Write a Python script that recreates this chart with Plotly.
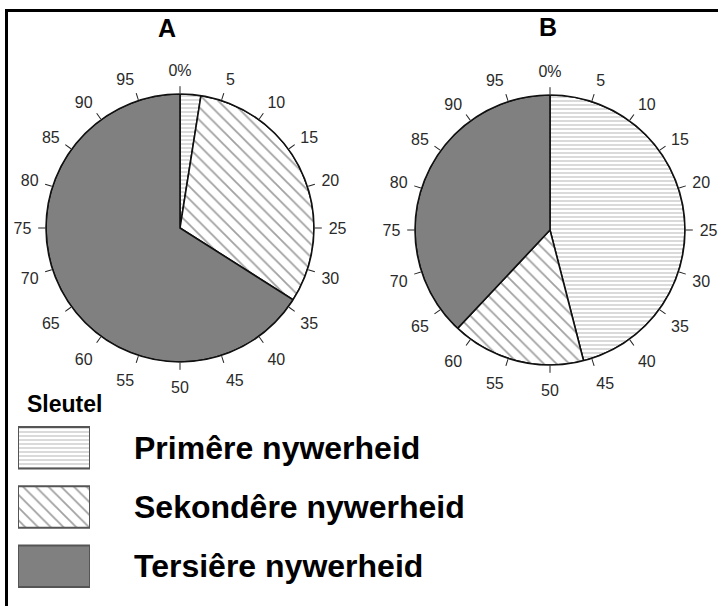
import plotly.graph_objects as go

categories = ["Primêre nywerheid", "Sekondêre nywerheid", "Tersiêre nywerheid"]
values_A = [2.5, 31.5, 66.0]
values_B = [46.0, 16.0, 38.0]
tick_values = [0, 5, 10, 15, 20, 25, 30, 35, 40, 45, 50, 55, 60, 65, 70, 75, 80, 85, 90, 95]
tick_labels = ["0%"] + [str(v) for v in tick_values[1:]]

fills = ["white", "white", "#808080"]
pat_shapes = ["-", "\\", ""]
pat_fg = ["#b4b4b4", "#8a8a8a", "#808080"]
pat_size = [4, 9, 8]

W, H = 718, 606


def wedges(values):
    starts, c = [], 0.0
    for v in values:
        starts.append(c)
        c += v
    theta = [(s + v / 2) * 3.6 for s, v in zip(starts, values)]
    width = [v * 3.6 for v in values]
    return theta, width


fig = go.Figure()
for name, vals in (("polar", values_A), ("polar2", values_B)):
    th, wd = wedges(vals)
    fig.add_trace(go.Barpolar(
        r=[1] * len(vals), theta=th, width=wd, subplot=name,
        marker=dict(color=fills, line=dict(color="#111", width=1.6),
                    pattern=dict(shape=pat_shapes, fgcolor=pat_fg, size=pat_size,
                                 solidity=0.2, bgcolor="white")),
        showlegend=False, hoverinfo="skip"))

# label-only polar overlays
for name in ("polar3", "polar4"):
    fig.add_trace(go.Scatterpolar(r=[], theta=[], subplot=name, showlegend=False,
                                  hoverinfo="skip", mode="markers"))

# legend boxes as bars
fig.add_trace(go.Bar(
    x=[1, 1, 1], y=categories, orientation="h", xaxis="x", yaxis="y",
    marker=dict(color=fills, line=dict(color="#555", width=2),
                pattern=dict(shape=pat_shapes, fgcolor=pat_fg, size=[4, 9, 8],
                             solidity=0.2, bgcolor="white")),
    width=0.7, showlegend=False, hoverinfo="skip"))


def px_dom_x(a, b):
    return [a / W, b / W]


def px_dom_y(top, bottom):
    return [1 - bottom / H, 1 - top / H]


tickvals_deg = [v * 3.6 for v in tick_values]
ang_ticks = dict(rotation=90, direction="clockwise", thetaunit="degrees",
                 tickvals=tickvals_deg, showticklabels=False,
                 ticks="outside", ticklen=7, tickcolor="#222", tickwidth=1.3,
                 showgrid=False, linecolor="#111", linewidth=1.6)
ang_labels = dict(rotation=90, direction="clockwise", thetaunit="degrees",
                  tickvals=tickvals_deg, ticktext=tick_labels,
                  ticks="outside", ticklen=11, tickcolor="rgba(0,0,0,0)",
                  showgrid=False, showline=False,
                  tickfont=dict(family="Arial, Liberation Sans", size=16, color="#2a2a2a"))
rad = dict(visible=False, range=[0, 1])
domA = dict(x=px_dom_x(46, 314), y=px_dom_y(94, 362))
domB = dict(x=px_dom_x(415, 685), y=px_dom_y(95, 365))
clear = "rgba(0,0,0,0)"

fig.update_layout(
    width=W, height=H, margin=dict(l=0, r=0, t=0, b=0),
    paper_bgcolor="white", plot_bgcolor="white",
    polar=dict(domain=domA, angularaxis=ang_ticks, radialaxis=rad, bgcolor=clear),
    polar2=dict(domain=domB, angularaxis=ang_ticks, radialaxis=rad, bgcolor=clear),
    polar3=dict(domain=domA, angularaxis=ang_labels, radialaxis=rad, bgcolor=clear),
    polar4=dict(domain=domB, angularaxis=ang_labels, radialaxis=rad, bgcolor=clear),
    xaxis=dict(domain=px_dom_x(18, 90), range=[0, 1], visible=False, fixedrange=True),
    yaxis=dict(domain=px_dom_y(418, 596), autorange="reversed", visible=False,
               fixedrange=True),
    showlegend=False,
)

font_b = "Arial, Liberation Sans"
fig.add_annotation(x=167 / W, y=1 - 28 / H, xref="paper", yref="paper", text="<b>A</b>",
                   xanchor="center", yanchor="middle",
                   showarrow=False, font=dict(family=font_b, size=25, color="black"))
fig.add_annotation(x=548 / W, y=1 - 27 / H, xref="paper", yref="paper", text="<b>B</b>",
                   xanchor="center", yanchor="middle",
                   showarrow=False, font=dict(family=font_b, size=25, color="black"))
fig.add_annotation(x=25 / W, y=1 - 404 / H, xref="paper", yref="paper", text="<b>Sleutel</b>",
                   xanchor="left", yanchor="middle",
                   showarrow=False, font=dict(family=font_b, size=23, color="black"))
for cat in categories:
    fig.add_annotation(x=0, y=cat, xref="paper", yref="y", text="<b>" + cat + "</b>",
                       xanchor="left", yanchor="middle", xshift=132, showarrow=False,
                       font=dict(family=font_b, size=32, color="black"))

# frame lines
fig.add_shape(type="line", xref="paper", yref="paper", x0=5 / W, x1=1, y0=1 - 10.5 / H, y1=1 - 10.5 / H,
              line=dict(color="black", width=3))
fig.add_shape(type="line", xref="paper", yref="paper", x0=6.5 / W, x1=6.5 / W, y0=0, y1=1 - 9 / H,
              line=dict(color="black", width=3))

fig.write_html("out.html", config={"displayModeBar": False},
               post_script="document.body.style.margin='0';")
